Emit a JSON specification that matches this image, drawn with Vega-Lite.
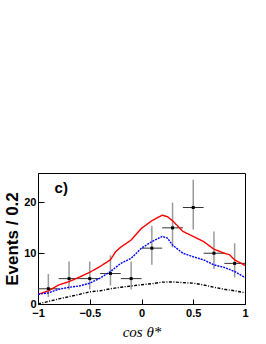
{
  "$schema": "https://vega.github.io/schema/vega-lite/v6.json",
  "autosize": "none",
  "width": 207,
  "height": 131,
  "padding": {"left": 38, "top": 173, "right": 21, "bottom": 40},
  "background": "white",
  "config": {
    "view": {"stroke": "black", "strokeWidth": 1},
    "axis": {"domainColor": "black", "tickColor": "black", "grid": false, "labelFont": "Liberation Sans", "labelFontWeight": "bold", "labelColor": "black", "titleColor": "black"}
  },
  "datasets": {
    "curves": [
      {"x": -1.0, "v": 1.9, "s": "total"}, {"x": -0.9, "v": 2.6, "s": "total"}, {"x": -0.8, "v": 3.75, "s": "total"}, {"x": -0.7, "v": 4.4, "s": "total"}, {"x": -0.6, "v": 5.3, "s": "total"}, {"x": -0.5, "v": 6.25, "s": "total"}, {"x": -0.4, "v": 7.4, "s": "total"}, {"x": -0.3, "v": 8.7, "s": "total"}, {"x": -0.25, "v": 10.3, "s": "total"}, {"x": -0.2, "v": 11.2, "s": "total"}, {"x": -0.1, "v": 12.6, "s": "total"}, {"x": 0.0, "v": 14.9, "s": "total"}, {"x": 0.1, "v": 16.4, "s": "total"}, {"x": 0.2, "v": 17.5, "s": "total"}, {"x": 0.25, "v": 17.2, "s": "total"}, {"x": 0.3, "v": 16.4, "s": "total"}, {"x": 0.4, "v": 14.3, "s": "total"}, {"x": 0.5, "v": 13.3, "s": "total"}, {"x": 0.6, "v": 12.3, "s": "total"}, {"x": 0.7, "v": 10.8, "s": "total"}, {"x": 0.8, "v": 10.0, "s": "total"}, {"x": 0.85, "v": 9.7, "s": "total"}, {"x": 0.9, "v": 8.7, "s": "total"}, {"x": 1.0, "v": 7.6, "s": "total"},
      {"x": -1.0, "v": 1.9, "s": "signal"}, {"x": -0.9, "v": 2.2, "s": "signal"}, {"x": -0.8, "v": 2.9, "s": "signal"}, {"x": -0.7, "v": 3.3, "s": "signal"}, {"x": -0.6, "v": 3.55, "s": "signal"}, {"x": -0.5, "v": 4.1, "s": "signal"}, {"x": -0.4, "v": 5.1, "s": "signal"}, {"x": -0.3, "v": 6.4, "s": "signal"}, {"x": -0.2, "v": 8.0, "s": "signal"}, {"x": -0.1, "v": 9.0, "s": "signal"}, {"x": 0.0, "v": 11.0, "s": "signal"}, {"x": 0.1, "v": 12.3, "s": "signal"}, {"x": 0.2, "v": 13.3, "s": "signal"}, {"x": 0.25, "v": 13.0, "s": "signal"}, {"x": 0.3, "v": 11.6, "s": "signal"}, {"x": 0.4, "v": 10.0, "s": "signal"}, {"x": 0.5, "v": 9.3, "s": "signal"}, {"x": 0.6, "v": 8.7, "s": "signal"}, {"x": 0.7, "v": 7.7, "s": "signal"}, {"x": 0.8, "v": 7.2, "s": "signal"}, {"x": 0.9, "v": 6.4, "s": "signal"}, {"x": 1.0, "v": 5.2, "s": "signal"},
      {"x": -1.0, "v": 0.0, "s": "background"}, {"x": -0.9, "v": 0.5, "s": "background"}, {"x": -0.8, "v": 1.0, "s": "background"}, {"x": -0.7, "v": 1.45, "s": "background"}, {"x": -0.6, "v": 1.9, "s": "background"}, {"x": -0.5, "v": 2.4, "s": "background"}, {"x": -0.4, "v": 2.6, "s": "background"}, {"x": -0.3, "v": 3.0, "s": "background"}, {"x": -0.2, "v": 3.3, "s": "background"}, {"x": -0.1, "v": 3.55, "s": "background"}, {"x": 0.0, "v": 3.8, "s": "background"}, {"x": 0.1, "v": 4.0, "s": "background"}, {"x": 0.2, "v": 4.3, "s": "background"}, {"x": 0.3, "v": 4.35, "s": "background"}, {"x": 0.4, "v": 4.2, "s": "background"}, {"x": 0.5, "v": 4.1, "s": "background"}, {"x": 0.6, "v": 3.75, "s": "background"}, {"x": 0.7, "v": 3.3, "s": "background"}, {"x": 0.8, "v": 2.9, "s": "background"}, {"x": 0.9, "v": 2.6, "s": "background"}, {"x": 1.0, "v": 2.2, "s": "background"}
    ],
    "points": [
      {"x": -0.9, "xlo": -1.0, "xhi": -0.8, "n": 3, "lo": 1.37, "hi": 5.92},
      {"x": -0.7, "xlo": -0.8, "xhi": -0.6, "n": 5, "lo": 2.84, "hi": 8.38},
      {"x": -0.5, "xlo": -0.6, "xhi": -0.4, "n": 5, "lo": 2.84, "hi": 8.38},
      {"x": -0.3, "xlo": -0.4, "xhi": -0.2, "n": 6, "lo": 3.63, "hi": 9.58},
      {"x": -0.1, "xlo": -0.2, "xhi": 0.0, "n": 5, "lo": 2.84, "hi": 8.38},
      {"x": 0.1, "xlo": 0.0, "xhi": 0.2, "n": 11, "lo": 7.73, "hi": 15.42},
      {"x": 0.3, "xlo": 0.2, "xhi": 0.4, "n": 15, "lo": 11.17, "hi": 19.96},
      {"x": 0.5, "xlo": 0.4, "xhi": 0.6, "n": 19, "lo": 14.67, "hi": 24.45},
      {"x": 0.7, "xlo": 0.6, "xhi": 0.8, "n": 10, "lo": 6.89, "hi": 14.26},
      {"x": 0.9, "xlo": 0.8, "xhi": 1.0, "n": 8, "lo": 5.23, "hi": 11.94}
    ]
  },
  "layer": [
    {
      "data": {"name": "points"},
      "mark": {"type": "rule", "color": "#9a9a9a", "strokeWidth": 1.5},
      "encoding": {
        "x": {"field": "x", "type": "quantitative", "scale": {"domain": [-1, 1], "nice": false, "zero": false},
          "axis": {"values": [-1, -0.5, 0, 0.5, 1], "format": "~g", "tickSize": -5, "labelPadding": 8, "labelFontSize": 11, "labelFlush": false, "title": "cos θ*", "titleFont": "Liberation Serif", "titleFontStyle": "italic", "titleFontWeight": "normal", "titleFontSize": 15, "titlePadding": 6}},
        "y": {"field": "lo", "type": "quantitative", "scale": {"domain": [0, 25.8], "nice": false},
          "axis": {"values": [0, 10, 20], "tickSize": -6, "labelPadding": 8, "labelFontSize": 11, "title": "Events / 0.2", "titleFont": "Liberation Sans", "titleFontWeight": "bold", "titleFontSize": 17, "titlePadding": 2}},
        "y2": {"field": "hi"}
      }
    },
    {
      "data": {"name": "points"},
      "mark": {"type": "rule", "color": "#333333", "strokeWidth": 1},
      "encoding": {
        "x": {"field": "xlo", "type": "quantitative"},
        "x2": {"field": "xhi"},
        "y": {"field": "n", "type": "quantitative"}
      }
    },
    {
      "data": {"name": "curves"},
      "mark": {"type": "line", "strokeWidth": 1.4, "clip": true},
      "encoding": {
        "x": {"field": "x", "type": "quantitative"},
        "y": {"field": "v", "type": "quantitative"},
        "detail": {"field": "s"},
        "color": {"field": "s", "type": "nominal", "legend": null,
          "scale": {"domain": ["total", "signal", "background"], "range": ["#ff0000", "#0000ff", "#000000"]}},
        "strokeDash": {"field": "s", "type": "nominal", "legend": null,
          "scale": {"domain": ["total", "signal", "background"], "range": [[1, 0], [2, 1], [3, 1.5, 1, 1.5]]}},
        "strokeWidth": {"field": "s", "type": "nominal", "legend": null,
          "scale": {"domain": ["total", "signal", "background"], "range": [1.5, 1.5, 1]}}
      }
    },
    {
      "data": {"name": "points"},
      "mark": {"type": "square", "color": "black", "opacity": 1, "size": 9},
      "encoding": {
        "x": {"field": "x", "type": "quantitative"},
        "y": {"field": "n", "type": "quantitative"}
      }
    },
    {
      "data": {"values": [{"label": "c)"}]},
      "mark": {"type": "text", "font": "Liberation Sans", "fontWeight": "bold", "fontSize": 15, "align": "left", "baseline": "middle", "color": "black"},
      "encoding": {
        "x": {"datum": -0.84},
        "y": {"datum": 22.8},
        "text": {"field": "label"}
      }
    }
  ]
}
